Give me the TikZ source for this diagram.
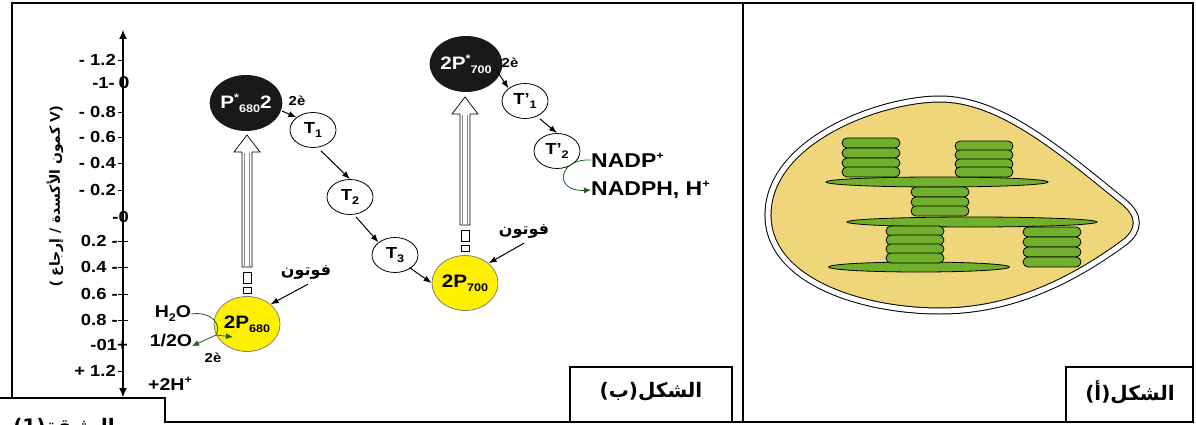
\documentclass[tikz,border=0pt]{standalone}
\usepackage{fontspec}
\setmainfont{Liberation Sans}[FakeStretch=1.15]
\newfontfamily\arabicfont[Script=Arabic]{DejaVu Sans}
\TeXXeTstate=1
\usetikzlibrary{arrows.meta,shapes.geometric}

\definecolor{leaf}{RGB}{112,176,44}
\definecolor{stroma}{RGB}{240,214,122}
\definecolor{dkgreen}{RGB}{35,95,35}
\definecolor{psyellow}{RGB}{255,240,0}

% small raised / lowered indices in the label font
\newcommand\lo[1]{\raisebox{-0.45ex}{\fontsize{11}{11}\selectfont #1}}
\newcommand\hi[1]{\raisebox{0.75ex}{\fontsize{11}{11}\selectfont #1}}
\newcommand\fs[1]{\fontsize{#1}{#1}\selectfont\bfseries}

\tikzset{
  frame/.style={line width=2pt},
  carrier/.style={ellipse, draw, line width=0.8pt, fill=white,
    minimum width=46pt, minimum height=35pt, inner sep=0pt, font=\fs{16}},
  excited/.style={ellipse, fill=black!90, minimum width=66pt,
    minimum height=56pt, inner sep=0pt, text=white, font=\fs{18}},
  ground/.style={ellipse, fill=psyellow, draw=black!50, line width=0.8pt,
    minimum width=66pt, minimum height=55pt, inner sep=0pt, font=\fs{18}},
  flow/.style={-{Latex[length=8pt,width=6pt]}, line width=1pt},
  redox/.style={dkgreen, line width=0.8pt},
  redoxtip/.style={redox, -{Latex[length=7pt,width=6pt]}},
  axlab/.style={anchor=east, inner sep=0pt, font=\fs{16}},
  txt/.style={inner sep=0pt, font=\fs{17}},
  small/.style={inner sep=0pt, font=\fs{13}},
  arab/.style={inner sep=0pt, font=\arabicfont\bfseries\fontsize{16}{16}\selectfont},
  figlab/.style={inner sep=0pt, font=\arabicfont\bfseries\fontsize{20}{20}\selectfont},
  disk/.style={rectangle, rounded corners=5pt, draw, fill=leaf, line width=0.8pt,
    minimum width=58pt, minimum height=10pt, inner sep=0pt},
  lamella/.style={ellipse, draw, fill=leaf, line width=0.8pt,
    minimum height=10pt, inner sep=0pt},
}

% open light arrow with its two small boxes underneath
\newcommand\lightbeam[3]{% x, tip y, shaft foot y
  \draw[line width=0.7pt, fill=white]
    (#1-5,#3) -- (#1-5,#2+17) -- (#1-13,#2+17) -- (#1,#2) --
    (#1+13,#2+17) -- (#1+5,#2+17) -- (#1+5,#3) -- cycle;
  \draw[black!45, line width=0.6pt]
    (#1-2.5,#3-1.5) -- (#1-2.5,#2+18) (#1+2.5,#3-1.5) -- (#1+2.5,#2+18);
  \draw[line width=0.7pt, fill=white] (#1-4,#3+5) rectangle (#1+4,#3+16);
  \draw[line width=0.7pt, fill=white] (#1-4,#3+20) rectangle (#1+4,#3+26);
}

\begin{document}
\begin{tikzpicture}[x=1pt,y=-1pt]
\useasboundingbox (0,0) rectangle (1196,425);
\clip (0,0) rectangle (1196,425);

% ---------- frames ----------
\draw[frame] (12,398) -- (12,3) -- (1193,3) -- (1193,422) -- (165,422) -- (165,398) -- (0,398);
\draw[frame] (743,3) -- (743,422);
\draw[frame] (570,422) -- (570,367) -- (732,367) -- (732,422);
\draw[frame] (1066,422) -- (1066,367) -- (1193,367);
\node[figlab] (figb) at (651,392) {الشكل(ب)};
\node[figlab] (figa) at (1130,392) {الشكل(أ)};
\node[figlab] (doc) at (64,428) {الوثيقة(1)};

% ---------- potential axis ----------
\coordinate (axtop) at (123,30);
\coordinate (axbot) at (123,397);
\draw[line width=1.2pt, {Latex[length=9pt,width=8pt]}-{Latex[length=9pt,width=8pt]}] (axbot) -- (axtop);

\foreach \yy/\lab [count=\i] in {60/{- 1.2}, 112/{- 0.8}, 137/{- 0.6}, 163/{- 0.4}, 190/{- 0.2}, 371/{+ 1.2}}{
  \node[axlab] (neg\i) at (116,\yy) {\lab};
  \draw[line width=0.9pt] (118,\yy) -- (123,\yy);
}
\foreach \yy/\lab [count=\i] in {241/{0.2 -}, 267/{0.4 -}, 294/{0.6 -}, 320/{0.8 -}}{
  \node[axlab] (pos\i) at (118,\yy) {\lab};
  \draw[line width=0.9pt] (118,\yy) -- (128,\yy);
}
\node[axlab] (mone) at (115,83) {-1-};
\node[inner sep=0pt, font=\fs{17}] (zeroa) at (124,83) {0};
\node[axlab] (zerob) at (129,217) {-0};
\node[axlab] (pone) at (128,345) {-01+};

\node[rotate=90, inner sep=0pt, font=\fs{14}] (axname) at (55,196)
  {( {\arabicfont\fontsize{14}{14}\selectfont\beginR كمون الأكسدة / إرجاع\endR} V)};

% ---------- photosystem II ----------
\node[ground] (gp680) at (247,324) {2P\lo{680}};
\node[excited] (ep680) at (246,103) {P\hi{*}\lo{680}2};
\lightbeam{247}{135}{267}

\node[carrier] (t1) at (313,130) {T\lo{1}};
\node[carrier] (t2) at (350,197) {T\lo{2}};
\node[carrier] (t3) at (395,255) {T\lo{3}};
\node[small] (e1) at (297,101) {2è};

\draw[flow] (282,111) -- (t1.north west);
\draw[flow] (t1.south) ++(8,3) -- (t2.north);
\draw[flow] (t2.south) ++(6,2) -- (t3.north west);

\node[arab] (ph1) at (306,272) {فوتون};
\draw[flow] (ph1.south) ++(2,5) -- (gp680.north east);

\node[txt] (h2o) at (173,314) {H\lo{2}O};
\node[txt] (oxy) at (171,341) {1/2O};
\node[small] (e0) at (213,358) {2è};
\node[txt] (hplus) at (170,384) {+2H\hi{+}};
\coordinate (split) at (216,335);
\coordinate (intoP) at (233,337);
\draw[redox] (h2o.east) .. controls (212,311) and (222,325) .. (split);
\draw[redoxtip] (split) -- (192,346);
\draw[redoxtip] (split) -- (intoP);

% ---------- photosystem I ----------
\node[ground] (gp700) at (465,283) {2P\lo{700}};
\node[excited] (ep700) at (466,64) {2P\hi{*}\lo{700}};
\lightbeam{465}{97}{225}

\node[carrier] (tp1) at (525,101) {T'\lo{1}};
\node[carrier] (tp2) at (557,151) {T'\lo{2}};
\node[small] (e2) at (510,63) {2è};

\draw[flow] (t3.south east) ++(-2,0) -- (gp700.west);
\draw[flow] (497,71) -- (tp1.north west);
\draw[flow] (tp1.south) ++(15,0) -- (tp2.north) ;

\node[arab] (ph2) at (524,231) {فوتون};
\draw[flow] (ph2.south) ++(0,5) -- (gp700.north east);

\node[txt, anchor=west, font=\fs{20}] (nadp) at (591,160) {NADP\hi{+}};
\node[txt, anchor=west, font=\fs{20}] (nadph) at (591,190) {NADPH, H\hi{+}};
\draw[redoxtip] (nadp.west) .. controls (558,158) and (553,192) .. (nadph.west);

% ---------- chloroplast ----------
\fill[stroma] (768,213) .. controls (770,140) and (880,99) .. (940,99)
  .. controls (1000,99) and (1060,150) .. (1125,203)
  .. controls (1140,216) and (1140,230) .. (1125,242)
  .. controls (1060,290) and (1000,311) .. (940,311)
  .. controls (860,311) and (766,280) .. (768,213) -- cycle;
\draw[line width=1pt, double=white, double distance=5pt]
  (768,213) .. controls (770,140) and (880,99) .. (940,99)
  .. controls (1000,99) and (1060,150) .. (1125,203)
  .. controls (1140,216) and (1140,230) .. (1125,242)
  .. controls (1060,290) and (1000,311) .. (940,311)
  .. controls (860,311) and (766,280) .. (768,213) -- cycle;

\node[lamella, minimum width=222pt] (lam1) at (937,182) {};
\node[lamella, minimum width=250pt] (lam2) at (972,222) {};
\node[lamella, minimum width=181pt] (lam3) at (919,267) {};
\foreach \yy [count=\i] in {143,153,163,172}
  \node[disk] (ga\i) at (871,\yy) {};
\foreach \yy [count=\i] in {146,155,164,172}
  \node[disk] (gb\i) at (984,\yy) {};
\foreach \yy [count=\i] in {192,202,211}
  \node[disk] (gc\i) at (940,\yy) {};
\foreach \yy [count=\i] in {231,240,249,258}
  \node[disk] (gd\i) at (915,\yy) {};
\foreach \yy [count=\i] in {232,242,252,262}
  \node[disk] (ge\i) at (1052,\yy) {};
\end{tikzpicture}
\end{document}
